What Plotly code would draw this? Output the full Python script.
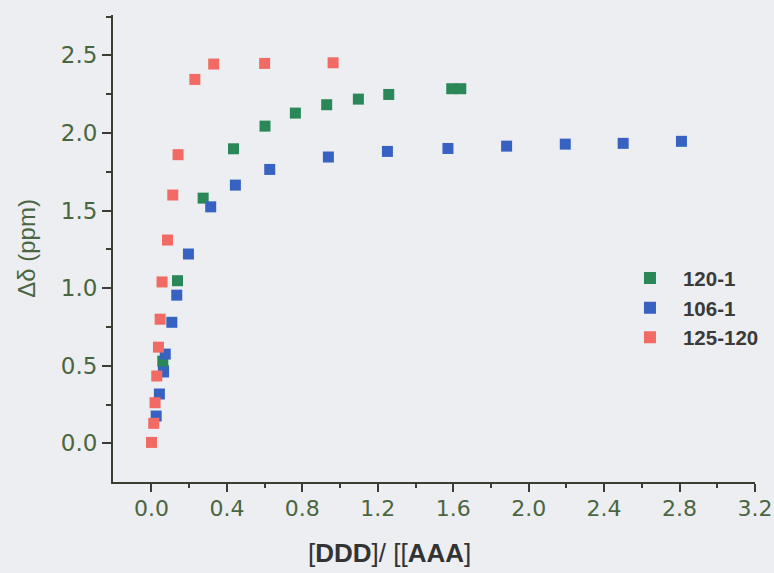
import plotly.graph_objects as go

# Titration series: ratio [DDD]/[AAA] vs chemical shift change (ppm)
x_120_1 = [0.060, 0.063, 0.138, 0.274, 0.435, 0.602, 0.763, 0.929, 1.097, 1.258, 1.592, 1.640]
y_120_1 = [0.53, 0.47, 1.048, 1.58, 1.898, 2.044, 2.128, 2.182, 2.218, 2.248, 2.285, 2.285]

x_106_1 = [0.025, 0.042, 0.064, 0.073, 0.108, 0.134, 0.196, 0.314, 0.445, 0.627,
           0.938, 1.251, 1.572, 1.883, 2.194, 2.501, 2.810]
y_106_1 = [0.176, 0.318, 0.46, 0.575, 0.78, 0.955, 1.22, 1.524, 1.664, 1.765,
           1.845, 1.881, 1.900, 1.915, 1.928, 1.933, 1.946]

x_125_120 = [0.000, 0.012, 0.019, 0.028, 0.037, 0.046, 0.056, 0.085, 0.113, 0.141,
             0.230, 0.330, 0.600, 0.963]
y_125_120 = [0.006, 0.129, 0.262, 0.434, 0.62, 0.80, 1.04, 1.31, 1.60, 1.86,
             2.345, 2.444, 2.448, 2.452]

series = [
    ("120-1", x_120_1, y_120_1, "#2a8758"),
    ("106-1", x_106_1, y_106_1, "#3762c2"),
    ("125-120", x_125_120, y_125_120, "#f26a64"),
]

x_ticks = [0.0, 0.4, 0.8, 1.2, 1.6, 2.0, 2.4, 2.8, 3.2]
x_minor = [0.2, 0.6, 1.0, 1.4, 1.8, 2.2, 2.6, 3.0]
y_ticks = [0.0, 0.5, 1.0, 1.5, 2.0, 2.5]
y_minor = [-0.25, 0.25, 0.75, 1.25, 1.75, 2.25, 2.75]

axis_color = "#3a3d33"
label_color = "#4a6640"
tick_font = "DejaVu Sans, Liberation Sans, Arial"
bg = "#eceef1"

fig = go.Figure()
for name, xs, ys, color in series:
    fig.add_trace(go.Scatter(
        x=xs, y=ys, mode="markers", name=name,
        marker=dict(symbol="square", size=11, color=color, line=dict(width=0)),
    ))

fig.update_layout(
    width=774, height=573,
    margin=dict(l=113, r=19, t=15, b=91, autoexpand=False),
    paper_bgcolor=bg, plot_bgcolor=bg,
    font=dict(family="Liberation Sans, Arial, sans-serif", color=label_color),
    showlegend=True,
    legend=dict(
        x=0.785, y=0.4793, xanchor="left", yanchor="top",
        bgcolor="rgba(0,0,0,0)",
        font=dict(family="Liberation Sans, Arial", size=20.5, color="#3a3a3a", weight="bold"),
        itemsizing="constant", itemwidth=56, tracegroupgap=0,
    ),
    xaxis=dict(
        range=[-0.204, 3.2], showgrid=False, zeroline=False, automargin=False,
        showline=True, linecolor=axis_color, linewidth=2,
        tickmode="array", tickvals=x_ticks, ticktext=[f"{v:.1f}" for v in x_ticks],
        ticks="outside", ticklen=8, tickwidth=1.5, tickcolor=axis_color,
        tickfont=dict(family=tick_font, size=22, color=label_color),
        ticklabelstandoff=-2, ticklabeloverflow="allow",
        minor=dict(tickmode="array", tickvals=x_minor, ticks="outside", ticklen=4,
                   tickwidth=1.5, tickcolor=axis_color),
    ),
    yaxis=dict(
        range=[-0.249, 2.76], showgrid=False, zeroline=False, automargin=False,
        showline=True, linecolor=axis_color, linewidth=2,
        tickmode="array", tickvals=y_ticks, ticktext=[f"{v:.1f}" for v in y_ticks],
        ticks="outside", ticklen=9, tickwidth=1.5, tickcolor=axis_color,
        tickfont=dict(family=tick_font, size=23, color=label_color),
        minor=dict(tickmode="array", tickvals=y_minor, ticks="outside", ticklen=5,
                   tickwidth=1.5, tickcolor=axis_color),
        title=dict(text="Δδ (ppm)", font=dict(size=24, color=label_color), standoff=18),
    ),
)

fig.add_annotation(
    text="[<b>DDD</b>]/ [[<b>AAA</b>]",
    xref="paper", yref="paper", x=0.43, y=-0.152,
    xanchor="center", yanchor="middle", showarrow=False,
    font=dict(family="Liberation Sans Narrow, Liberation Sans, Arial", size=26, color="#333333"),
)

fig.write_html("out.html")
